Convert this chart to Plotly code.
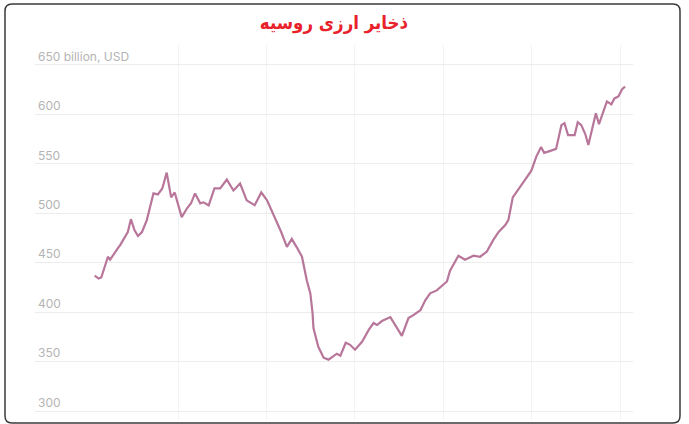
import plotly.graph_objects as go

# Russia FX reserves, billion USD, x in decimal years
years = [2010.11, 2010.20, 2010.26, 2010.41, 2010.46, 2010.57, 2010.64, 2010.69, 2010.79, 2010.86,
         2010.93, 2011.01, 2011.09, 2011.18, 2011.29, 2011.44, 2011.54, 2011.64, 2011.74, 2011.84,
         2011.92, 2012.08, 2012.20, 2012.29, 2012.38, 2012.50, 2012.57, 2012.69, 2012.82, 2012.95,
         2013.10, 2013.25, 2013.40, 2013.55, 2013.73, 2013.88, 2014.01, 2014.19, 2014.33, 2014.46,
         2014.57, 2014.69, 2014.80, 2014.91, 2014.99, 2015.04, 2015.06, 2015.17, 2015.29, 2015.40,
         2015.51, 2015.59, 2015.67, 2015.79, 2015.89, 2016.00, 2016.16, 2016.31, 2016.42, 2016.50,
         2016.61, 2016.80, 2017.06, 2017.14, 2017.21, 2017.32, 2017.48, 2017.59, 2017.70, 2017.85,
         2017.97, 2018.08, 2018.15, 2018.27, 2018.34, 2018.49, 2018.68, 2018.83, 2018.98, 2019.13,
         2019.25, 2019.40, 2019.47, 2019.57, 2019.70, 2019.85, 2019.99, 2020.10, 2020.21, 2020.28,
         2020.42, 2020.55, 2020.67, 2020.74, 2020.82, 2020.97, 2021.04, 2021.12, 2021.21, 2021.28,
         2021.36, 2021.45, 2021.52, 2021.62, 2021.70, 2021.80, 2021.87, 2021.96, 2022.04, 2022.11]
reserves = [437, 434, 435, 456, 453, 461, 465, 468, 475, 481,
            494, 483, 477, 481, 493, 520, 519, 525, 541, 516,
            521, 496, 505, 510, 520, 510, 511, 508, 525, 525,
            534, 523, 530, 513, 508, 521, 513, 495, 481, 466,
            474, 465, 456, 432, 419, 399, 384, 365, 354, 352,
            355, 358, 356, 369, 367, 362, 370, 382, 389, 387,
            391, 395, 376, 385, 394, 397, 402, 412, 419, 422,
            427, 431, 442, 452, 457, 453, 457, 456, 461, 473,
            481, 488, 493, 516, 525, 534, 543, 557, 567, 561,
            563, 565, 589, 591, 579, 579, 592, 589, 580, 569,
            584, 601, 590, 602, 613, 610, 616, 618, 625, 628]

y_ticks = [300, 350, 400, 450, 500, 550, 600, 650]
y_labels = ["300", "350", "400", "450", "500", "550", "600", "650 billion, USD"]
x_grid = [2012, 2014, 2016, 2018, 2020, 2022]

title_text = "ذخایر ارزی روسیه"

W, H = 689, 424
ML, MR, MT, MB = 35, 56, 45, 4


def px(x, y):
    # pixel -> paper coords
    return (x - ML) / (W - ML - MR), (H - MB - y) / (H - MT - MB)


fig = go.Figure()
fig.add_trace(go.Scatter(x=years, y=reserves, mode="lines",
                         line=dict(color="#b7769a", width=2.2), hoverinfo="x+y"))

# rounded frame
x0, y0 = px(5, 4)
x1, y1 = px(680, 423)
rx, ry = px(5 + 7, 4 + 7)
rx -= x0
ry = y0 - ry
path = (f"M {x0+rx},{y0} L {x1-rx},{y0} Q {x1},{y0} {x1},{y0-ry} "
        f"L {x1},{y1+ry} Q {x1},{y1} {x1-rx},{y1} L {x0+rx},{y1} "
        f"Q {x0},{y1} {x0},{y1+ry} L {x0},{y0-ry} Q {x0},{y0} {x0+rx},{y0} Z")
fig.add_shape(type="path", path=path, xref="paper", yref="paper",
              line=dict(color="#3a3a3a", width=1.5), layer="above")

fig.update_layout(
    width=W, height=H,
    margin=dict(l=ML, r=MR, t=MT, b=MB),
    paper_bgcolor="white", plot_bgcolor="white",
    showlegend=False,
    title=dict(text=title_text, x=0.5, xref="paper", xanchor="center",
               y=1 - 23 / H, yref="container", yanchor="middle",
               font=dict(family="DejaVu Sans Condensed, DejaVu Sans", size=18.5,
                         color="#e8212b", weight="bold")),
    xaxis=dict(range=[2008.76, 2022.29], tickvals=x_grid, showticklabels=False,
               showgrid=True, gridcolor="#f3f3f3", gridwidth=1, zeroline=False,
               showline=False, ticks=""),
    yaxis=dict(range=[291, 670], tickvals=y_ticks, ticktext=y_labels,
               ticklabelposition="inside top", showgrid=True, gridcolor="#ececec",
               gridwidth=1, zeroline=False, showline=False, ticks="",
               tickfont=dict(family="Inter", size=12, color="#b4b4b4")),
)

fig.write_html("out.html", config={"displayModeBar": False},
               post_script="document.body.style.margin='0';")
